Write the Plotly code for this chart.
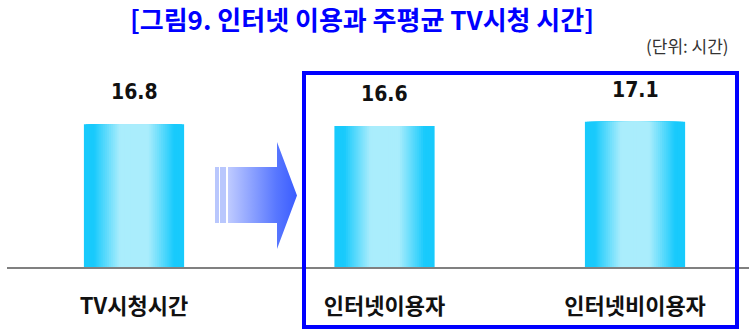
import base64
import plotly.graph_objects as go

categories = ["TV시청시간", "인터넷이용자", "인터넷비이용자"]
hours = [16.8, 16.6, 17.1]
value_labels = ["16.8", "16.6", "17.1"]
title_text = "[그림9. 인터넷 이용과 주평균 TV시청 시간]"
unit_text = "(단위: 시간)"

W, H = 749, 330
L, R, T, B = 7, 0, 60, 63
PW, PH = W - L - R, H - T - B
BASE = H - B


def px(x):
    return (x - L) / PW


def py(y):
    return (BASE - y) / PH


deep = (24, 202, 252)
light = (170, 237, 252)


def mix(t):
    return "rgb(%d,%d,%d)" % tuple(round(light[i] * (1 - t) + deep[i] * t) for i in range(3))


fig = go.Figure()
N = 26
BW = 0.4
for k in range(N):
    d = 1 - k / N
    t = max(0.0, min(1.0, (d - 0.3) / 0.52))
    fig.add_trace(go.Bar(
        x=categories, y=hours, width=BW * d,
        marker=dict(color=mix(t), line=dict(width=0)),
        hoverinfo="skip", showlegend=False,
    ))

for c, v, s in zip(categories, hours, value_labels):
    fig.add_annotation(x=c, y=v, text=s, showarrow=False, yshift=32,
                       yanchor="middle", xanchor="center",
                       font=dict(family="DejaVu Sans Condensed, Liberation Sans Narrow, Noto Sans, sans-serif",
                                 size=21, color="#111111", weight="bold"))

arrow_svg = (
    "<svg xmlns='http://www.w3.org/2000/svg' width='82' height='107' viewBox='0 0 82 107'>"
    "<defs><linearGradient id='g' gradientUnits='userSpaceOnUse' x1='13' y1='0' x2='82' y2='0'>"
    "<stop offset='0' stop-color='#bfcbff'/><stop offset='0.7' stop-color='#5877ff'/>"
    "<stop offset='1' stop-color='#3a5cff'/></linearGradient></defs>"
    "<rect x='0' y='25' width='4' height='56' fill='#b9c7fd'/>"
    "<rect x='5' y='25' width='6' height='56' fill='#b9c7fd'/>"
    "<path d='M13 25 H62 V0 L82 53.5 L62 107 V81 H13 Z' fill='url(#g)'/>"
    "</svg>"
)
src = "data:image/svg+xml;base64," + base64.b64encode(arrow_svg.encode()).decode()
fig.add_layout_image(dict(source=src, xref="paper", yref="paper",
                          x=px(215), y=py(142), sizex=82 / PW, sizey=107 / PH,
                          xanchor="left", yanchor="top", sizing="stretch", layer="above"))

fig.add_shape(type="rect", xref="paper", yref="paper",
              x0=px(304), x1=px(737), y0=py(327), y1=py(73),
              line=dict(color="#0000ff", width=4), fillcolor="rgba(0,0,0,0)")

fig.add_annotation(xref="paper", yref="paper", x=px(731), y=py(46), text=unit_text,
                   showarrow=False, xanchor="right", yanchor="middle",
                   font=dict(family="Noto Sans CJK KR, sans-serif", size=17, color="#333333"))

fig.update_layout(
    width=W, height=H,
    margin=dict(l=L, r=R, t=T, b=B),
    paper_bgcolor="white", plot_bgcolor="white",
    barmode="overlay",
    title=dict(text=title_text, x=362 / W, xref="container", xanchor="center",
               y=1 - 21 / H, yref="container", yanchor="middle",
               font=dict(family="Noto Sans CJK KR, sans-serif", size=26, color="#0000ff", weight="bold")),
    xaxis=dict(range=[-0.507, 2.455], showline=True, linecolor="#808080", linewidth=1.5,
               showgrid=False, zeroline=False, ticks="", ticklabelstandoff=19,
               tickfont=dict(family="Noto Sans CJK KR, sans-serif", size=22, color="#111111", weight="bold")),
    yaxis=dict(range=[0, PH / 8.49], visible=False, showgrid=False, zeroline=False),
)

fig.write_html("out.html", config={"displayModeBar": False},
               post_script="document.body.style.margin='0';")
